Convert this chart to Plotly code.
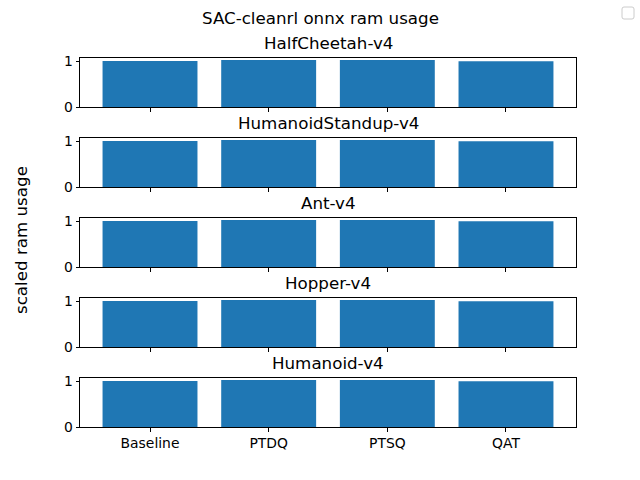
import plotly.graph_objects as go

envs = ["HalfCheetah-v4", "HumanoidStandup-v4", "Ant-v4", "Hopper-v4", "Humanoid-v4"]
methods = ["Baseline", "PTDQ", "PTSQ", "QAT"]
halfcheetah = [1.0, 1.025, 1.025, 0.998]
humanoidstandup = [1.0, 1.025, 1.025, 0.998]
ant = [1.0, 1.025, 1.025, 0.998]
hopper = [1.0, 1.025, 1.025, 0.998]
humanoid = [1.0, 1.025, 1.025, 0.998]
series = [halfcheetah, humanoidstandup, ant, hopper, humanoid]

W, H = 640, 480
FONT = "DejaVu Sans"
fig = go.Figure()
left, right = 80 / W, 576 / W
top0, period, axh = 57.6, 80.0, 49.6

annotations = []
for i, (env, vals) in enumerate(zip(envs, series)):
    n = i + 1
    xa = "x" if n == 1 else f"x{n}"
    ya = "y" if n == 1 else f"y{n}"
    fig.add_trace(go.Bar(x=methods, y=vals, marker=dict(color="#1f77b4", line=dict(width=0)),
                         xaxis=xa, yaxis=ya, showlegend=False))
    t = top0 + i * period
    b = t + axh
    ymax = max(vals) * 1.05
    common = dict(showline=True, linecolor="black", linewidth=1, mirror=True,
                  ticks="outside", ticklen=3.5, tickcolor="black", showgrid=False,
                  zeroline=False, automargin=False,
                  tickfont=dict(family=FONT, size=13.9, color="black"))
    fig.layout[f"xaxis{'' if n == 1 else n}"] = dict(
        domain=[left, right], anchor=ya, type="category", range=[-0.59, 3.59],
        showticklabels=(n == 5), **common)
    fig.layout[f"yaxis{'' if n == 1 else n}"] = dict(
        domain=[1 - b / H, 1 - t / H], anchor=xa, range=[0, ymax],
        tickvals=[0, 1], ticktext=["0", "1"], **common)
    annotations.append(dict(text=env, x=(left + right) / 2, y=1 - (t - 3) / H, xref="paper", yref="paper",
                            xanchor="center", yanchor="bottom", showarrow=False,
                            font=dict(family=FONT, size=16.7, color="black")))

annotations.append(dict(text="SAC-cleanrl onnx ram usage", x=0.5, y=1 - 6 / H, xref="paper", yref="paper",
                        xanchor="center", yanchor="top", showarrow=False,
                        font=dict(family=FONT, size=16.7, color="black")))
annotations.append(dict(text="scaled ram usage", x=21 / W, y=0.5, xref="paper", yref="paper",
                        xanchor="center", yanchor="middle", textangle=-90, showarrow=False,
                        font=dict(family=FONT, size=16.7, color="black")))

fig.update_layout(
    width=W, height=H, margin=dict(l=0, r=0, t=0, b=0, pad=0), autosize=False,
    paper_bgcolor="white", plot_bgcolor="white", bargap=0.2, showlegend=False,
    annotations=annotations,
    shapes=[dict(type="path", xref="paper", yref="paper",
                 path=f"M {624/W} {1-7/H} L {632/W} {1-7/H} Q {634/W} {1-7/H} {634/W} {1-9/H} "
                      f"L {634/W} {1-17/H} Q {634/W} {1-19/H} {632/W} {1-19/H} L {624/W} {1-19/H} "
                      f"Q {622/W} {1-19/H} {622/W} {1-17/H} L {622/W} {1-9/H} Q {622/W} {1-7/H} {624/W} {1-7/H} Z",
                 line=dict(color="#cccccc", width=1), fillcolor="rgba(255,255,255,0.8)")],
)
fig.write_html("out.html", post_script="document.body.style.margin='0';")
